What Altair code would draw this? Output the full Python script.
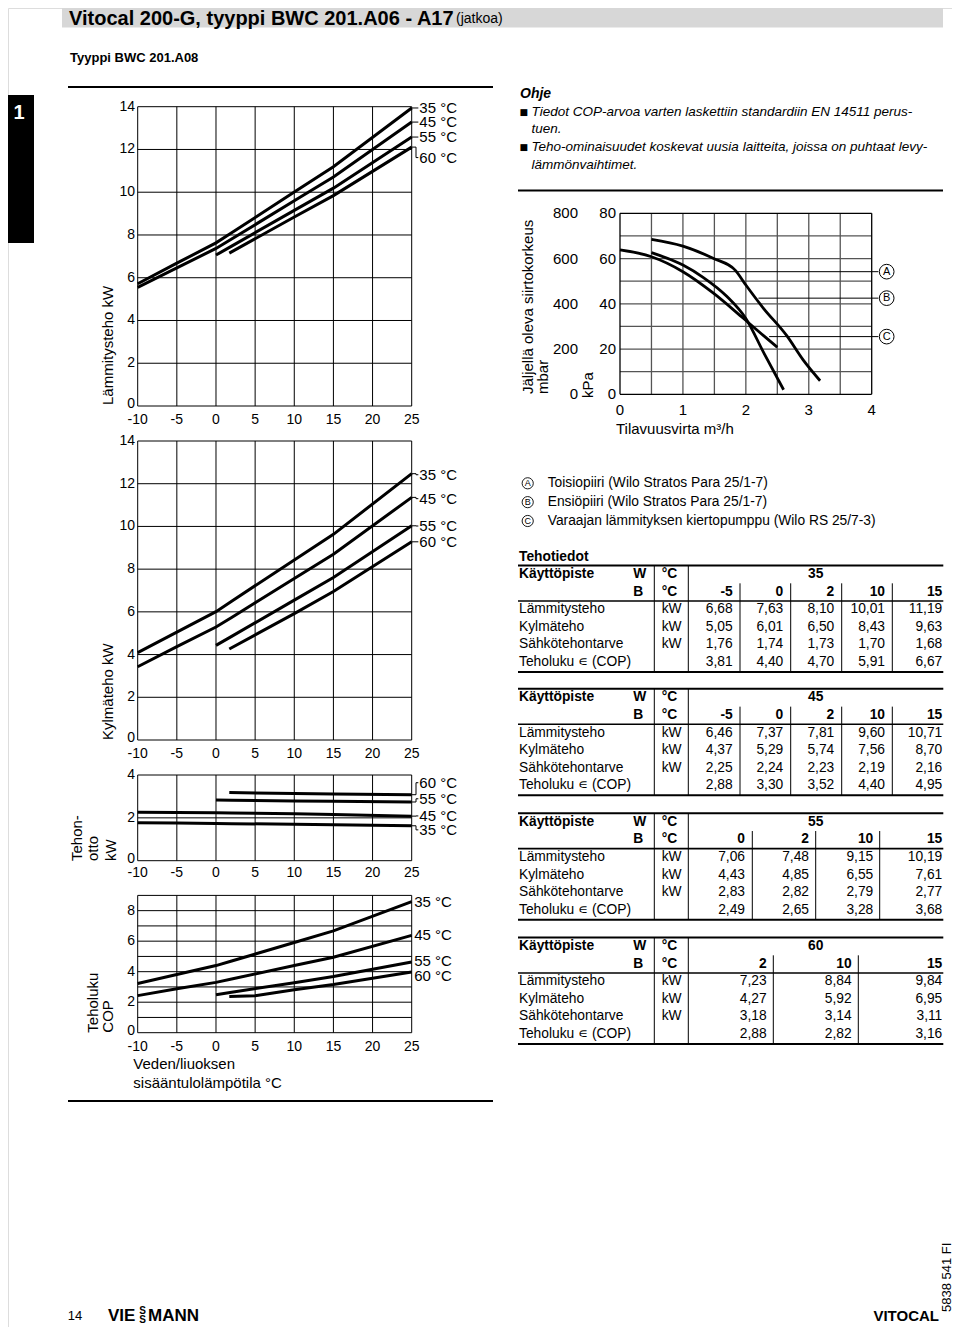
import altair as alt
import pandas as pd

# ---------------- data ----------------
SERIES = ["35 °C", "45 °C", "55 °C", "60 °C"]
X_TICKS = [-10, -5, 0, 5, 10, 15, 20, 25]

B_FULL = [-10, -5, 0, 2, 10, 15, 25]
B_55 = [0, 2, 10, 15, 25]
B_60 = [1.7, 10, 15, 25]
B_60_COP = [1.7, 5, 10, 15, 25]

HEAT_35 = [5.72, 6.68, 7.63, 8.10, 10.01, 11.19, 13.94]
HEAT_45 = [5.55, 6.46, 7.37, 7.81, 9.60, 10.71, 13.28]
HEAT_55 = [7.06, 7.48, 9.15, 10.19, 12.58]
HEAT_60 = [7.15, 8.84, 9.84, 12.11]

COOL_35 = [4.09, 5.05, 6.01, 6.50, 8.43, 9.63, 12.47]
COOL_45 = [3.43, 4.37, 5.29, 5.74, 7.56, 8.70, 11.36]
COOL_55 = [4.43, 4.85, 6.55, 7.61, 10.03]
COOL_60 = [4.26, 5.92, 6.95, 9.28]

POWER_35 = [1.77, 1.76, 1.74, 1.73, 1.70, 1.68, 1.63]
POWER_45 = [2.26, 2.25, 2.24, 2.23, 2.19, 2.16, 2.08]
POWER_55 = [2.83, 2.82, 2.79, 2.77, 2.74]
POWER_60 = [3.18, 3.14, 3.11, 3.08]

COP_35 = [3.23, 3.81, 4.40, 4.70, 5.91, 6.67, 8.59]
COP_45 = [2.43, 2.88, 3.30, 3.52, 4.40, 4.95, 6.38]
COP_55 = [2.49, 2.65, 3.28, 3.68, 4.63]
COP_60 = [2.38, 2.42, 2.82, 3.16, 3.98]

HEAT_TICKS = [0, 2, 4, 6, 8, 10, 12, 14]
POWER_TICKS = [0, 2, 4]
COP_TICKS = [0, 2, 4, 6, 8]

# pump curves (flow m3/h, head kPa)
FLOW_A = [0.5, 1.0, 1.32, 1.7, 2.0, 2.3, 2.6]
HEAD_A = [62.6, 57.1, 51.7, 43.2, 33.5, 17.5, 2.0]
FLOW_B = [0.5, 1.0, 1.48, 1.83, 2.0, 2.28, 2.65, 2.91, 3.18]
HEAD_B = [68.5, 65.5, 60.1, 54.9, 48.3, 38.0, 25.9, 15.2, 6.0]
FLOW_C = [0.0, 0.5, 1.0, 1.49, 1.96, 2.3, 2.5]
HEAD_C = [63.8, 60.8, 54.2, 44.6, 33.6, 25.5, 20.8]
PUMP_LETTERS = ["A", "B", "C"]
LEADER_Y = [54.2, 42.5, 25.5]
LEADER_X0 = [1.3, 2.2, 2.37]
FLOW_TICKS = [0, 1, 2, 3, 4]
KPA_TICKS = [0, 20, 40, 60, 80]
MBAR_TICKS = [0, 200, 400, 600, 800]
LEGEND_TEXT = ["Toisiopiiri (Wilo Stratos Para 25/1-7)",
               "Ensiöpiiri (Wilo Stratos Para 25/1-7)",
               "Varaajan lämmityksen kiertopumppu (Wilo RS 25/7-3)"]

# tables
ROW_LABELS = ["Lämmitysteho", "Kylmäteho", "Sähkötehontarve", "Teholuku ∊ (COP)"]
ROW_UNITS = ["kW", "kW", "kW", ""]
T35_B = [-5, 0, 2, 10, 15]
T35_HEAT = [6.68, 7.63, 8.10, 10.01, 11.19]
T35_COOL = [5.05, 6.01, 6.50, 8.43, 9.63]
T35_POWER = [1.76, 1.74, 1.73, 1.70, 1.68]
T35_COP = [3.81, 4.40, 4.70, 5.91, 6.67]
T45_B = [-5, 0, 2, 10, 15]
T45_HEAT = [6.46, 7.37, 7.81, 9.60, 10.71]
T45_COOL = [4.37, 5.29, 5.74, 7.56, 8.70]
T45_POWER = [2.25, 2.24, 2.23, 2.19, 2.16]
T45_COP = [2.88, 3.30, 3.52, 4.40, 4.95]
T55_B = [0, 2, 10, 15]
T55_HEAT = [7.06, 7.48, 9.15, 10.19]
T55_COOL = [4.43, 4.85, 6.55, 7.61]
T55_POWER = [2.83, 2.82, 2.79, 2.77]
T55_COP = [2.49, 2.65, 3.28, 3.68]
T60_B = [2, 10, 15]
T60_HEAT = [7.23, 8.84, 9.84]
T60_COOL = [4.27, 5.92, 6.95]
T60_POWER = [3.18, 3.14, 3.11]
T60_COP = [2.88, 2.82, 3.16]

# ---------------- layout ----------------
W, H = 944, 1319
OFF = 8
FONT = "Liberation Sans"
DUMMY = pd.DataFrame({"d": [0]})
layers = []


def lin(dom, rng):
    return alt.Scale(domain=list(dom), range=[rng[0] - OFF, rng[1] - OFF], nice=False, zero=False)


def ex(f, sc):
    return alt.X(f, type="quantitative", scale=sc, axis=None)


def ey(f, sc):
    return alt.Y(f, type="quantitative", scale=sc, axis=None)


def vrules(xv, y0, y1, xs, ys, color="black", sw=1.0):
    df = pd.DataFrame({"x": xv, "y0": [y0] * len(xv), "y1": [y1] * len(xv)})
    layers.append(alt.Chart(df).mark_rule(color=color, strokeWidth=sw).encode(
        x=ex("x", xs), y=ey("y0", ys), y2=alt.Y2("y1")))


def hrules(yv, x0, x1, xs, ys, color="black", sw=1.0):
    df = pd.DataFrame({"y": yv, "x0": [x0] * len(yv), "x1": [x1] * len(yv)})
    layers.append(alt.Chart(df).mark_rule(color=color, strokeWidth=sw).encode(
        y=ey("y", ys), x=ex("x0", xs), x2=alt.X2("x1")))


def line(xv, yv, xs, ys, sw=3.0, interp="linear"):
    df = pd.DataFrame({"x": xv, "y": yv, "o": list(range(len(xv)))})
    layers.append(alt.Chart(df).mark_line(color="black", strokeWidth=sw, interpolate=interp).encode(
        x=ex("x", xs), y=ey("y", ys), order="o:Q"))


def txt(x, y, s, size=14, weight="normal", style="normal", align="left", angle=0, color="black", font=FONT):
    props = dict(text=s, fontSize=size, fontWeight=weight, fontStyle=style, align=align,
                 baseline="middle", color=color, font=font)
    if angle:
        props["angle"] = angle
    layers.append(alt.Chart(DUMMY).mark_text(**props).encode(x=alt.value(x - OFF), y=alt.value(y - OFF)))


def hline(x0, x1, y, sw=2.0):
    layers.append(alt.Chart(DUMMY).mark_rule(color="black", strokeWidth=sw).encode(
        x=alt.value(x0 - OFF), x2=alt.value(x1 - OFF), y=alt.value(y - OFF)))


def rect(x0, x1, y0, y1, color):
    layers.append(alt.Chart(DUMMY).mark_rect(color=color).encode(
        x=alt.value(x0 - OFF), x2=alt.value(x1 - OFF), y=alt.value(y0 - OFF), y2=alt.value(y1 - OFF)))


LX = (137.7, 411.7)


def left_panel(ydom, ypage, ygrid, yticks, xs_list, ys_list, label_y, connectors, label_x, xlab_y):
    xs = lin((-10, 25), LX)
    ys = lin(ydom, ypage)
    vrules(X_TICKS, ydom[0], ydom[1], xs, ys, sw=1.0)
    hrules(ygrid, -10, 25, xs, ys, sw=1.0)
    for xv, yv in zip(xs_list, ys_list):
        line(xv, yv, xs, ys, sw=3.0)
    upper = [v for v in yticks if v != 0]
    df = pd.DataFrame({"y": upper, "t": [str(v) for v in upper]})
    layers.append(alt.Chart(df).mark_text(font=FONT, fontSize=14, align="right", baseline="middle").encode(
        x=alt.value(135 - OFF), y=ey("y", ys), text="t:N"))
    df0 = pd.DataFrame({"y": [0], "t": ["0"]})
    layers.append(alt.Chart(df0).mark_text(font=FONT, fontSize=14, align="right", baseline="middle",
                                           dy=-2).encode(
        x=alt.value(135 - OFF), y=ey("y", ys), text="t:N"))
    df = pd.DataFrame({"x": X_TICKS, "t": [str(v) for v in X_TICKS]})
    layers.append(alt.Chart(df).mark_text(font=FONT, fontSize=14, align="center", baseline="middle").encode(
        x=ex("x", xs), y=alt.value(xlab_y - OFF), text="t:N"))
    if connectors:
        for yv, ly in zip(ys_list, label_y):
            e = yv[-1]
            line([25, 25.55, 25.55, 25.85], [e, e, ly, ly], xs, ys, sw=1.0)
    df = pd.DataFrame({"x": [label_x] * 4, "y": label_y, "t": SERIES})
    layers.append(alt.Chart(df).mark_text(font=FONT, fontSize=15, align="left", baseline="middle", dx=1).encode(
        x=ex("x", xs), y=ey("y", ys), text="t:N"))


# header
rect(62, 943, 8, 27.5, "#d7d7d7")
txt(69, 18.5, "Vitocal 200-G, tyyppi BWC 201.A06 - A17", size=20, weight="bold")
txt(456, 19, "(jatkoa)", size=14)
txt(70, 58, "Tyyppi BWC 201.A08", size=13, weight="bold")
rect(8, 34, 95, 243, "black")
txt(19, 113, "1", size=20, weight="bold", align="center", color="white")
hline(68, 493, 87, 2)
hline(68, 493, 1101, 2)
hline(518, 943, 190.5, 2)

# left panels
left_panel((0, 14), (406, 106.7), HEAT_TICKS, HEAT_TICKS,
           [B_FULL, B_FULL, B_55, B_60], [HEAT_35, HEAT_45, HEAT_55, HEAT_60],
           [13.94, 13.28, 12.58, 11.62], True, 25.85, 420)
txt(108.3, 405, "Lämmitysteho kW", size=15, angle=270)

left_panel((0, 14), (740, 441), HEAT_TICKS, HEAT_TICKS,
           [B_FULL, B_FULL, B_55, B_60], [COOL_35, COOL_45, COOL_55, COOL_60],
           [12.42, 11.3, 10.02, 9.28], True, 25.85, 753.5)
txt(108.3, 740, "Kylmäteho kW", size=15, angle=270)

left_panel((0, 4), (860.7, 775), POWER_TICKS, POWER_TICKS,
           [B_FULL, B_FULL, B_55, B_60], [POWER_35, POWER_45, POWER_55, POWER_60],
           [1.44, 2.09, 2.89, 3.64], True, 25.85, 873)
txt(77.3, 861, "Tehon-", size=15, angle=270)
txt(93.3, 861, "otto", size=15, angle=270)
txt(110.5, 861, "kW", size=15, angle=270)

left_panel((0, 9), (1032.7, 895.4), list(range(0, 10)), COP_TICKS,
           [B_FULL, B_FULL, B_55, B_60_COP], [COP_35, COP_45, COP_55, COP_60],
           [8.6, 6.42, 4.71, 3.69], False, 25.2, 1047)
txt(93.3, 1032.7, "Teholuku", size=15, angle=270)
txt(108.3, 1032.7, "COP", size=15, angle=270)
txt(133.3, 1064.3, "Veden/liuoksen", size=15)
txt(133.3, 1082.5, "sisääntulolämpötila °C", size=15)

# note text
txt(520, 94, "Ohje", size=14, weight="bold", style="italic")
OHJE = ["Tiedot COP-arvoa varten laskettiin standardiin EN 14511 perus-", "tuen.",
        "Teho-ominaisuudet koskevat uusia laitteita, joissa on puhtaat levy-", "lämmönvaihtimet."]
for i, (s, yy) in enumerate(zip(OHJE, [112, 129, 147, 165])):
    if i in (0, 2):
        txt(519.5, yy, "■", size=9, font="DejaVu Sans")
    txt(531.5, yy, s, size=13.5, style="italic")

# pump chart
pxs = lin((0, 4), (620, 871.7))
pys = lin((0, 80), (394.3, 213.3))
vrules([0.5, 1, 1.5, 2, 2.5, 3, 3.5], 0, 80, pxs, pys, color="#555555", sw=1.3)
hrules([10, 20, 30, 40, 50, 60, 70], 0, 4, pxs, pys, color="#555555", sw=1.3)
vrules([0, 4], 0, 80, pxs, pys, sw=1.3)
hrules([0, 80], 0, 4, pxs, pys, sw=1.3)
for i in range(3):
    hrules([LEADER_Y[i]], LEADER_X0[i], 4.106, pxs, pys, sw=1.0)
line(FLOW_B, HEAD_B, pxs, pys, sw=2.8, interp="monotone")
line(FLOW_A, HEAD_A, pxs, pys, sw=2.8, interp="monotone")
line(FLOW_C, HEAD_C, pxs, pys, sw=2.8, interp="monotone")
dfc = pd.DataFrame({"x": [4.238] * 3, "y": LEADER_Y, "t": PUMP_LETTERS})
layers.append(alt.Chart(dfc).mark_point(shape="circle", filled=False, size=216, color="black",
                                        strokeWidth=1, opacity=1).encode(x=ex("x", pxs), y=ey("y", pys)))
layers.append(alt.Chart(dfc).mark_text(font=FONT, fontSize=11, align="center", baseline="middle").encode(
    x=ex("x", pxs), y=ey("y", pys), text="t:N"))
dft = pd.DataFrame({"x": FLOW_TICKS, "t": [str(v) for v in FLOW_TICKS]})
layers.append(alt.Chart(dft).mark_text(font=FONT, fontSize=15, align="center", baseline="middle").encode(
    x=ex("x", pxs), y=alt.value(410 - OFF), text="t:N"))
dfk = pd.DataFrame({"y": KPA_TICKS, "t": [str(v) for v in KPA_TICKS], "m": [str(v) for v in MBAR_TICKS]})
layers.append(alt.Chart(dfk).mark_text(font=FONT, fontSize=15, align="right", baseline="middle").encode(
    x=alt.value(616 - OFF), y=ey("y", pys), text="t:N"))
layers.append(alt.Chart(dfk).mark_text(font=FONT, fontSize=15, align="right", baseline="middle").encode(
    x=alt.value(578 - OFF), y=ey("y", pys), text="m:N"))
txt(528.3, 394, "Jäljellä oleva siirtokorkeus", size=15, angle=270)
txt(543.3, 394, "mbar", size=15, angle=270)
txt(588, 398, "kPa", size=15, angle=270)
txt(616, 429.3, "Tilavuusvirta m³/h", size=15)

# legend of pump curves
RX = alt.Scale(domain=[0, 425], range=[518 - OFF, 943 - OFF], nice=False, zero=False)
lys = lin((0, 2), (483.3, 521))
dfl = pd.DataFrame({"x": [9.7] * 3, "tx": [29.7] * 3, "y": [0, 1, 2], "l": PUMP_LETTERS, "t": LEGEND_TEXT})
layers.append(alt.Chart(dfl).mark_point(shape="circle", filled=False, size=125, color="black",
                                        strokeWidth=0.9, opacity=1).encode(x=ex("x", RX), y=ey("y", lys)))
layers.append(alt.Chart(dfl).mark_text(font=FONT, fontSize=9, align="center", baseline="middle").encode(
    x=ex("x", RX), y=ey("y", lys), text="l:N"))
layers.append(alt.Chart(dfl).mark_text(font=FONT, fontSize=13.8, align="left", baseline="middle").encode(
    x=ex("tx", RX), y=ey("y", lys), text="t:N"))
txt(519, 556.7, "Tehotiedot", size=13.8, weight="bold")

# tables
SEP1, SEP2, TABLE_R = 136.3, 170.3, 425.3
LBL_X, WB_X, UNIT_X, HEAD_X = 1, 115.3, 143.7, 297.7
PITCH = 17.6


def fmt(v):
    return f"{v:.2f}".replace(".", ",")


def table(row0, w, bvals, rows, rights, seps):
    ys = lin((0, 5), (row0, row0 + 5 * PITCH))
    hrules([-0.48, 5.57], 0, TABLE_R, RX, ys, sw=2.0)
    hrules([1.53], 0, TABLE_R, RX, ys, sw=1.6)
    vrules([SEP1, SEP2], -0.48, 5.57, RX, ys, sw=1.0)
    vrules(seps, 0.53, 5.57, RX, ys, sw=1.0)

    def cells(df, align, weight):
        layers.append(alt.Chart(df).mark_text(font=FONT, fontSize=13.8, align=align, baseline="middle",
                                              fontWeight=weight).encode(
            x=ex("x", RX), y=ey("y", ys), text="t:N"))

    cells(pd.DataFrame({"x": [LBL_X, WB_X, WB_X, UNIT_X, UNIT_X], "y": [0, 0, 1, 0, 1],
                        "t": ["Käyttöpiste", "W", "B", "°C", "°C"]}), "left", "bold")
    cells(pd.DataFrame({"x": [HEAD_X], "y": [0], "t": [str(w)]}), "center", "bold")
    cells(pd.DataFrame({"x": rights, "y": [1] * len(bvals), "t": [str(b) for b in bvals]}), "right", "bold")
    cells(pd.DataFrame({"x": [LBL_X] * 4 + [UNIT_X] * 3, "y": [2, 3, 4, 5, 2, 3, 4],
                        "t": ROW_LABELS + ROW_UNITS[:3]}), "left", "normal")
    xv, yv, tv = [], [], []
    for i, r in enumerate(rows):
        for j, v in enumerate(r):
            xv.append(rights[j]); yv.append(2 + i); tv.append(fmt(v))
    cells(pd.DataFrame({"x": xv, "y": yv, "t": tv}), "right", "normal")


R5 = [214.7, 265.3, 316.3, 367.0, 424.3]
S5 = [222.0, 272.7, 323.7, 374.3]
table(574, 35, T35_B, [T35_HEAT, T35_COOL, T35_POWER, T35_COP], R5, S5)
table(697.3, 45, T45_B, [T45_HEAT, T45_COOL, T45_POWER, T45_COP], R5, S5)
table(821.7, 55, T55_B, [T55_HEAT, T55_COOL, T55_POWER, T55_COP],
      [227.0, 291.0, 355.3, 424.3], [234.3, 297.7, 361.7])
table(946, 60, T60_B, [T60_HEAT, T60_COOL, T60_POWER, T60_COP],
      [248.7, 333.7, 424.3], [255.3, 340.3])

# footer
txt(75, 1316, "14", size=13, align="center")
txt(108, 1316, "VIE", size=17, weight="bold")
txt(142.5, 1311, "S", size=10, weight="bold", align="center")
txt(142.5, 1320, "S", size=10, weight="bold", align="center")
txt(148, 1316, "MANN", size=17, weight="bold")
txt(939, 1316, "VITOCAL", size=15, weight="bold", align="right")
txt(946.5, 1312, "5838 541 FI", size=13, angle=270)

chart = alt.layer(*layers).resolve_scale(x="independent", y="independent").properties(
    width=W, height=H, padding=0, autosize=alt.AutoSizeParams(type="none")
).configure_view(strokeWidth=0, stroke="transparent").configure(font=FONT)

chart.save("out.html", embed_options={"renderer": "svg", "actions": False})
